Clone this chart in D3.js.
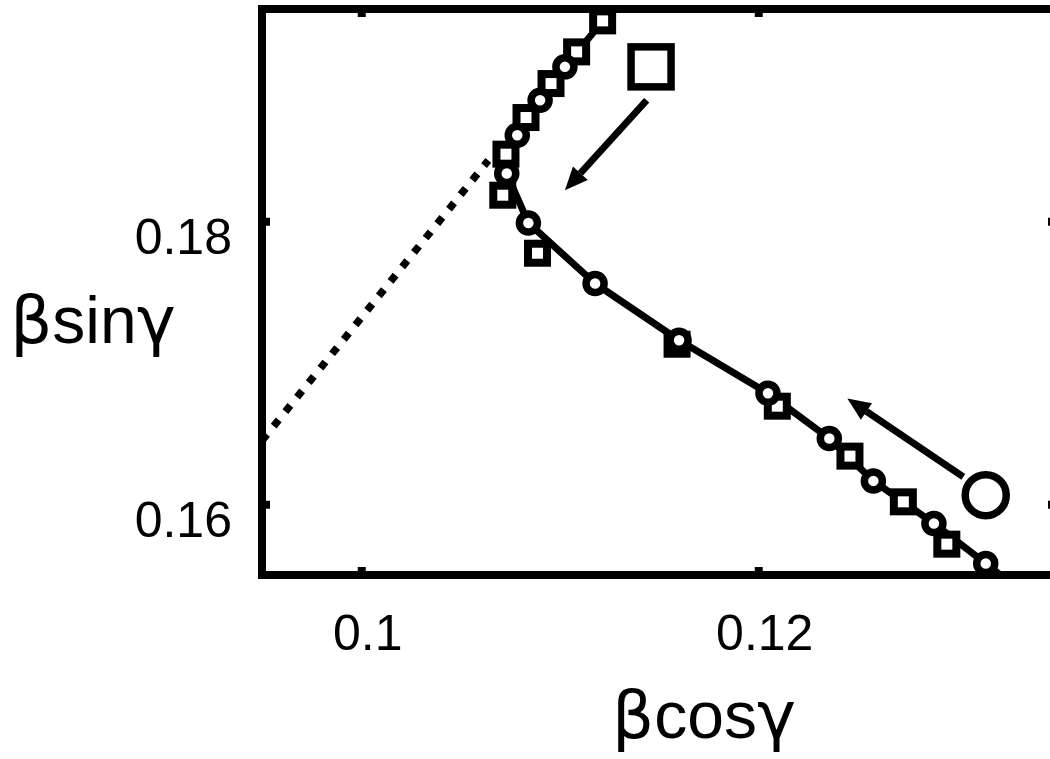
<!DOCTYPE html>
<html>
<head>
<meta charset="utf-8">
<script src="https://cdn.jsdelivr.net/npm/d3@7"></script>
<style>
body { margin: 0; background: #fff; }
svg { display: block; font-family: "Liberation Sans", Arial, sans-serif; }
</style>
</head>
<body>
<svg id="chart" width="1050" height="759"></svg>
<script>
var xTicks = [0.1, 0.12];
var xTickLabels = ['0.1', '0.12'];
var yTicks = [0.16, 0.18];
var yTickLabels = ['0.16', '0.18'];

// circles, sitting on the solid curve
var circleX = [0.11026, 0.10901, 0.10786, 0.10733, 0.10842, 0.11178, 0.11601, 0.12049, 0.12358, 0.12580, 0.12885, 0.13146];
var circleY = [0.19091, 0.18855, 0.18608, 0.18337, 0.17988, 0.17560, 0.17159, 0.16785, 0.16465, 0.16165, 0.15864, 0.15581];

// squares, markers only
var squareX = [0.11216, 0.11085, 0.10956, 0.10830, 0.10729, 0.10713, 0.10888, 0.11591, 0.12096, 0.12462, 0.12731, 0.12950];
var squareY = [0.19416, 0.19197, 0.18973, 0.18733, 0.18474, 0.18184, 0.17774, 0.17131, 0.16693, 0.16340, 0.16017, 0.15718];

// solid curve (runs out of the box at both ends)
var curveX = [0.11304, 0.11026, 0.10901, 0.10786, 0.10733, 0.10842, 0.11178, 0.11601, 0.12049, 0.12358, 0.12580, 0.12885, 0.13146, 0.13253];
var curveY = [0.19562, 0.19091, 0.18855, 0.18608, 0.18337, 0.17988, 0.17560, 0.17159, 0.16785, 0.16465, 0.16165, 0.15864, 0.15581, 0.15463];

// dotted line
var dotX = [0.0950, 0.1064];
var dotY = [0.1645, 0.1843];

// arrows
var arrowFromX = [0.11438, 0.13033];
var arrowFromY = [0.18855, 0.16193];
var arrowToX = [0.11026, 0.12449];
var arrowToY = [0.18219, 0.16747];

// big lone markers
var bigSquare = [0.11460, 0.19091];
var bigCircle = [0.13146, 0.16064];

var boxL = 262, boxR = 1056, boxT = 9, boxB = 575;

var x = d3.scaleLinear().domain([0.095, 0.135]).range([boxL, boxR]);
var y = d3.scaleLinear().domain([0.155, 0.195]).range([boxB, boxT]);

var svg = d3.select('#chart');

svg.append('defs').append('clipPath').attr('id', 'clip')
    .append('rect')
    .attr('x', boxL).attr('y', boxT)
    .attr('width', boxR - boxL).attr('height', boxB - boxT);

var plot = svg.append('g');
var clipped = plot.append('g').attr('clip-path', 'url(#clip)');

var line = d3.line()
    .x(function(d) { return x(d[0]); })
    .y(function(d) { return y(d[1]); });

clipped.append('path')
    .datum(d3.zip(dotX, dotY))
    .attr('d', line)
    .attr('fill', 'none')
    .attr('stroke', '#000')
    .attr('stroke-width', 7.5)
    .attr('stroke-dasharray', '8,10.6');

clipped.append('path')
    .datum(d3.zip(curveX, curveY))
    .attr('d', line)
    .attr('fill', 'none')
    .attr('stroke', '#000')
    .attr('stroke-width', 7)
    .attr('stroke-linejoin', 'round');

var sq = 19;
plot.selectAll('rect.sq')
    .data(d3.zip(squareX, squareY))
    .enter().append('rect')
    .attr('class', 'sq')
    .attr('x', function(d) { return x(d[0]) - sq / 2; })
    .attr('y', function(d) { return y(d[1]) - sq / 2; })
    .attr('width', sq).attr('height', sq)
    .attr('fill', '#fff')
    .attr('stroke', '#000')
    .attr('stroke-width', 8);

plot.selectAll('circle.ci')
    .data(d3.zip(circleX, circleY))
    .enter().append('circle')
    .attr('class', 'ci')
    .attr('cx', function(d) { return x(d[0]); })
    .attr('cy', function(d) { return y(d[1]); })
    .attr('r', 9)
    .attr('fill', '#fff')
    .attr('stroke', '#000')
    .attr('stroke-width', 7.5);

plot.append('rect')
    .attr('x', x(bigSquare[0]) - 20).attr('y', y(bigSquare[1]) - 20)
    .attr('width', 40).attr('height', 40)
    .attr('fill', 'none').attr('stroke', '#000').attr('stroke-width', 7.5);

plot.append('circle')
    .attr('cx', x(bigCircle[0])).attr('cy', y(bigCircle[1]))
    .attr('r', 20.5)
    .attr('fill', 'none').attr('stroke', '#000').attr('stroke-width', 7.5);

function drawArrow(x1, y1, x2, y2) {
    var headLen = 23, headHalf = 10;
    var ang = Math.atan2(y2 - y1, x2 - x1);
    var bx = x2 - headLen * Math.cos(ang), by = y2 - headLen * Math.sin(ang);
    var px = -Math.sin(ang) * headHalf, py = Math.cos(ang) * headHalf;
    plot.append('line')
        .attr('x1', x1).attr('y1', y1).attr('x2', bx).attr('y2', by)
        .attr('stroke', '#000').attr('stroke-width', 7);
    plot.append('path')
        .attr('d', 'M' + x2 + ',' + y2 + 'L' + (bx + px) + ',' + (by + py) + 'L' + (bx - px) + ',' + (by - py) + 'Z')
        .attr('fill', '#000');
}

arrowFromX.forEach(function(v, i) {
    drawArrow(x(v), y(arrowFromY[i]), x(arrowToX[i]), y(arrowToY[i]));
});

// axes: ticks point inward on all four sides
var tickLen = -8;
var fontSize = 50;

var gx = svg.append('g').attr('transform', 'translate(0,' + boxB + ')')
    .call(d3.axisBottom(x).tickValues(xTicks).tickSizeInner(tickLen).tickSizeOuter(0).tickPadding(39.5)
        .tickFormat(function(d, i) { return xTickLabels[i]; }));
gx.selectAll('text').attr('dx', 6);

var gy = svg.append('g').attr('transform', 'translate(' + boxL + ',0)')
    .call(d3.axisLeft(y).tickValues(yTicks).tickSizeInner(tickLen).tickSizeOuter(0).tickPadding(30)
        .tickFormat(function(d, i) { return yTickLabels[i]; }));
gy.selectAll('text').attr('dy', 32);

svg.append('g').attr('transform', 'translate(0,' + boxT + ')')
    .call(d3.axisTop(x).tickValues(xTicks).tickSizeInner(tickLen).tickSizeOuter(0).tickFormat(''));
svg.append('g').attr('transform', 'translate(' + boxR + ',0)')
    .call(d3.axisRight(y).tickValues(yTicks).tickSizeInner(tickLen).tickSizeOuter(0).tickFormat(''));

svg.selectAll('.domain').remove();
svg.selectAll('.tick line').attr('stroke', '#000').attr('stroke-width', 8);
svg.selectAll('.tick text')
    .attr('fill', '#000')
    .attr('font-family', '"Liberation Sans", Arial, sans-serif')
    .attr('font-size', fontSize);

svg.append('rect')
    .attr('x', boxL).attr('y', boxT)
    .attr('width', boxR - boxL).attr('height', boxB - boxT)
    .attr('fill', 'none').attr('stroke', '#000').attr('stroke-width', 8);

function axisLabel(px, py, mid) {
    var t = svg.append('text')
        .attr('x', px).attr('y', py)
        .attr('text-anchor', 'middle')
        .attr('font-size', 66);
    t.append('tspan').attr('font-family', '"DejaVu Sans"').text('β');
    t.append('tspan').text(mid);
    t.append('tspan').attr('font-family', '"DejaVu Sans"').text('γ');
}

axisLabel(704, 738, 'cos');
axisLabel(93, 343, 'sin');
</script>
</body>
</html>
